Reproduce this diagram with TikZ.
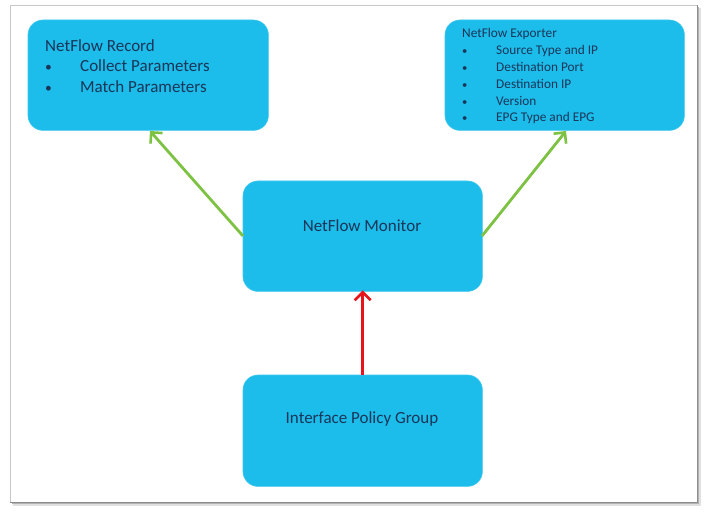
\documentclass[tikz,border=0pt]{standalone}
\usepackage{fontspec}
\setmainfont{Carlito}
\usetikzlibrary{arrows.meta}
\definecolor{boxblue}{HTML}{1CBDEB}
\definecolor{txtnavy}{HTML}{1B3558}
\definecolor{arrgreen}{HTML}{7DC242}
\definecolor{arrred}{HTML}{E8141C}
\tikzset{
  bluebox/.style={fill=boxblue, draw=boxblue!85!white, line width=0.6pt, rounded corners=15pt},
  boxtext/.style={text=txtnavy, inner sep=0pt},
  link/.style={line width=2.8pt, -{Straight Barb[length=8pt,width=16pt,line width=2.6pt]}},
}
\newcommand{\bl}[1]{\makebox[#1][l]{\scalebox{0.8}{\textbullet}}}
\begin{document}
\begin{tikzpicture}[x=1pt,y=-1pt]
\useasboundingbox (0,0) rectangle (707,513);
\fill[white] (0,0) rectangle (707,513);
% frame with shadow
\fill[black!12] (13,8) rectangle (701,506);
\fill[black!30] (12,7) rectangle (699,504);
\fill[white] (10,5) rectangle (697,502);
\draw[black!22, line width=0.8pt] (10,502) -- (10,5) -- (697,5);
\draw[black!45, line width=1pt] (697,5) -- (697,502) -- (10,502);
% boxes
\node[draw=none, minimum width=240pt, minimum height=110pt, anchor=north west, inner sep=0pt] (rec) at (28,20) {};
\node[draw=none, minimum width=239pt, minimum height=110pt, anchor=north west, inner sep=0pt] (exp) at (445,20) {};
\node[draw=none, minimum width=239pt, minimum height=110pt, anchor=north west, inner sep=0pt] (mon) at (243,181) {};
\node[draw=none, minimum width=239pt, minimum height=111pt, anchor=north west, inner sep=0pt] (ipg) at (243,375) {};
\path[bluebox] (rec.north west) rectangle (rec.south east);
\path[bluebox] (exp.north west) rectangle (exp.south east);
\path[bluebox] (mon.north west) rectangle (mon.south east);
\path[bluebox] (ipg.north west) rectangle (ipg.south east);
% texts
\node[boxtext, anchor=north west, align=left, font=\fontsize{17}{20.3}\selectfont] (rectext) at (45,39.5)
  {NetFlow Record\\ \bl{35pt}Collect Parameters\\ \bl{35pt}Match Parameters};
\node[boxtext, anchor=north west, align=left, font=\fontsize{13.3}{16.9}\selectfont] (exptext) at (462,28)
  {NetFlow Exporter\\ \bl{34pt}Source Type and IP\\ \bl{34pt}Destination Port\\ \bl{34pt}Destination IP\\ \bl{34pt}Version\\ \bl{34pt}EPG Type and EPG};
\node[boxtext, font=\fontsize{17}{20}\selectfont] (montext) at (362,226) {NetFlow Monitor};
\node[boxtext, font=\fontsize{17}{20}\selectfont] (ipgtext) at (362,419) {Interface Policy Group};
% connectors
\coordinate (monL) at (243,236);
\coordinate (monR) at (482,236);
\coordinate (recB) at (150,131);
\coordinate (expB) at (566,131);
\draw[link, arrgreen] (monL) -- (recB);
\draw[link, arrgreen] (monR) -- (expB);
\draw[link, arrred] (ipg.north) -- ([yshift=1pt]mon.south);
\end{tikzpicture}
\end{document}
